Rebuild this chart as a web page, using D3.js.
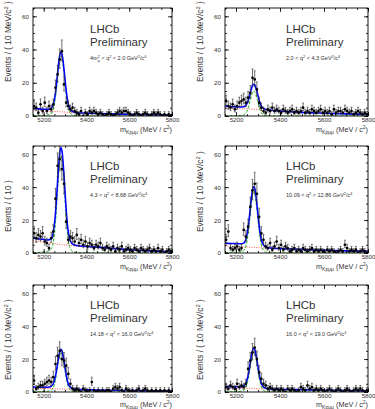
<!DOCTYPE html>
<html>
<head>
<meta charset="utf-8">
<script src="https://cdn.jsdelivr.net/npm/d3@7"></script>
<style>
  body { margin: 0; background: #fff; }
  svg { display: block; }
</style>
</head>
<body>
<div id="chart"></div>
<script>
// bin centres of the 10 MeV mass bins
const binMass = [
  5155, 5165, 5175, 5185, 5195, 5205, 5215, 5225, 5235, 5245,
  5255, 5265, 5275, 5285, 5295, 5305, 5315, 5325, 5335, 5345,
  5355, 5365, 5375, 5385, 5395, 5405, 5415, 5425, 5435, 5445,
  5455, 5465, 5475, 5485, 5495, 5505, 5515, 5525, 5535, 5545,
  5555, 5565, 5575, 5585, 5595, 5605, 5615, 5625, 5635, 5645,
  5655, 5665, 5675, 5685, 5695, 5705, 5715, 5725, 5735, 5745,
  5755, 5765, 5775, 5785, 5795
];

const fitMass = [5150, 5175, 5200, 5220, 5235, 5245, 5255, 5262, 5268, 5274, 5280, 5286, 5292,
  5298, 5305, 5315, 5325, 5340, 5360, 5400, 5450, 5500, 5600, 5700, 5800];

const xMajorTicks = [5200, 5400, 5600, 5800];
const yMajorTicks = [0, 20, 40, 60];
const massRange = [5150, 5800];
const countRange = [0, 65];

const q2Labels = [
  "4m^{2}_{μ} < q^{2} < 2.0 GeV^{2}/c^{4}",
  "2.0 < q^{2} < 4.3 GeV^{2}/c^{4}",
  "4.3 < q^{2} < 8.68 GeV^{2}/c^{4}",
  "10.09 < q^{2} < 12.86 GeV^{2}/c^{4}",
  "14.18 < q^{2} < 16.0 GeV^{2}/c^{4}",
  "16.0 < q^{2} < 19.0 GeV^{2}/c^{4}"
];
const yTitles = [
  "Events / ( 10 MeV/c^{2} )", "Events / ( 10 MeV/c^{2} )",
  "Events / ( 10 )", "Events / ( 10 MeV/c^{2} )",
  "Events / ( 10 MeV/c^{2} )", "Events / ( 10 MeV/c^{2} )"
];
const xTitle = "m_{Kpμμ} (MeV / c^{2})";

// candidates per bin
const counts1 = [
  6, 5, 2, 7, 3, 8, 3, 6, 4, 7,
  17, 25, 34, 39, 19, 8, 6, 4, 5, 3,
  2, 1, 3, 0, 2, 1, 3, 2, 3, 2,
  1, 2, 1, 0, 1, 2, 1, 0, 1, 2,
  3, 2, 3, 3, 2, 1, 0, 1, 2, 1,
  0, 1, 2, 1, 0, 1, 2, 1, 2, 1,
  0, 1, 0, 1, 0
];
const counts2 = [
  9, 6, 5, 7, 4, 6, 8, 9, 10, 8,
  11, 14, 23, 22, 16, 8, 5, 3, 2, 4,
  3, 5, 3, 4, 3, 2, 4, 3, 2, 3,
  4, 2, 3, 2, 3, 5, 2, 3, 2, 4,
  3, 2, 3, 4, 2, 3, 2, 3, 1, 4,
  2, 3, 3, 2, 4, 3, 2, 3, 1, 2,
  3, 2, 1, 2, 1
];
const counts3 = [
  12, 9, 11, 10, 12, 7, 6, 3, 9, 13,
  33, 53, 57, 51, 42, 19, 8, 10, 9, 7,
  11, 6, 8, 5, 7, 4, 6, 5, 3, 5,
  4, 6, 3, 2, 4, 3, 2, 4, 1, 3,
  2, 4, 1, 2, 3, 2, 1, 3, 2, 1,
  3, 2, 1, 2, 3, 1, 2, 1, 3, 1,
  2, 0, 1, 2, 1
];
const counts4 = [
  8, 13, 3, 2, 3, 4, 2, 3, 14, 10,
  16, 28, 38, 42, 36, 22, 12, 8, 4, 3,
  6, 2, 4, 7, 3, 5, 2, 4, 3, 1,
  2, 3, 1, 2, 1, 3, 2, 1, 2, 3,
  1, 2, 1, 2, 1, 0, 2, 1, 2, 1,
  0, 1, 2, 1, 5, 3, 1, 2, 1, 2,
  0, 1, 2, 1, 0
];
const counts5 = [
  7, 2, 3, 4, 4, 5, 6, 7, 6, 9,
  17, 22, 25, 20, 19, 16, 11, 5, 2, 1,
  2, 1, 0, 2, 1, 0, 1, 6, 1, 0,
  1, 0, 1, 0, 1, 1, 0, 2, 3, 2,
  3, 1, 0, 2, 1, 0, 1, 0, 1, 2,
  0, 1, 2, 1, 0, 1, 0, 1, 0, 1,
  0, 1, 0, 1, 0
];
const counts6 = [
  3, 2, 4, 3, 2, 5, 3, 4, 3, 5,
  14, 19, 24, 27, 20, 12, 8, 5, 4, 2,
  3, 2, 1, 2, 1, 2, 1, 0, 2, 1,
  2, 1, 0, 1, 3, 2, 1, 4, 2, 3,
  1, 2, 1, 2, 1, 0, 1, 2, 1, 0,
  1, 2, 1, 0, 1, 2, 1, 0, 1, 2,
  1, 2, 1, 0, 1
];

// fit curves (total / signal / combinatorial background), values at fitMass
const total1 = [4.6, 4.3, 4.1, 4.0, 4.8, 7.0, 14.0, 22.0, 29.6, 35.7, 38.5, 37.0, 31.6, 24.3, 15.6, 7.1, 3.8, 2.4, 2.0, 1.75, 1.5, 1.3, 1.0, 0.8, 0.6];
const signal1 = [0.1, 0.2, 0.4, 0.7, 1.4, 4.0, 11.2, 19.3, 27.0, 33.1, 36.0, 34.6, 29.2, 22.0, 13.3, 4.9, 1.6, 0.4, 0.1, 0, 0, 0, 0, 0, 0];
const bkg1 = [3.6, 3.4, 3.2, 3.0, 2.9, 2.8, 2.7, 2.65, 2.6, 2.55, 2.5, 2.45, 2.4, 2.35, 2.3, 2.2, 2.15, 2.05, 1.9, 1.7, 1.5, 1.3, 1.0, 0.8, 0.6];

const total2 = [6.0, 5.7, 5.5, 5.4, 5.6, 6.5, 9.0, 12.2, 15.4, 18.0, 19.1, 18.5, 16.2, 13.2, 9.5, 6.0, 4.6, 3.8, 3.5, 3.0, 2.6, 2.2, 1.7, 1.3, 1.0];
const signal2 = [0.05, 0.1, 0.15, 0.3, 0.6, 1.65, 4.65, 8.0, 11.25, 13.8, 15.0, 14.4, 12.15, 9.15, 5.55, 2.0, 0.7, 0.15, 0.05, 0, 0, 0, 0, 0, 0];
const bkg2 = [4.8, 4.6, 4.5, 4.4, 4.3, 4.3, 4.2, 4.2, 4.2, 4.1, 4.1, 4.1, 4.05, 4.05, 4.0, 3.95, 3.9, 3.7, 3.45, 3.0, 2.6, 2.2, 1.7, 1.3, 1.0];

const total3 = [9.0, 8.6, 8.2, 7.9, 8.7, 12.7, 24.0, 37.2, 49.6, 59.5, 64.1, 61.6, 52.7, 40.9, 26.6, 12.7, 7.3, 5.0, 4.4, 4.0, 3.5, 3.0, 2.0, 1.3, 0.8];
const signal3 = [0.2, 0.3, 0.6, 1.2, 2.4, 6.5, 18.3, 31.6, 44.3, 54.3, 59.0, 56.6, 47.8, 36.0, 21.8, 8.0, 2.7, 0.6, 0.2, 0, 0, 0, 0, 0, 0];
const bkg3 = [7.2, 6.9, 6.5, 6.2, 5.9, 5.7, 5.5, 5.4, 5.3, 5.2, 5.1, 5.0, 4.95, 4.9, 4.8, 4.7, 4.6, 4.45, 4.3, 4.0, 3.5, 3.0, 2.0, 1.3, 0.8];

const total4 = [6.0, 5.8, 5.7, 5.6, 6.0, 8.4, 15.3, 23.4, 31.2, 37.4, 40.4, 38.9, 33.3, 25.8, 16.9, 8.2, 4.8, 3.4, 3.0, 2.7, 2.4, 2.1, 1.7, 1.3, 1.0];
const signal4 = [0.1, 0.2, 0.4, 0.7, 1.5, 4.1, 11.5, 19.8, 27.8, 34.0, 37.0, 35.5, 30.0, 22.6, 13.7, 5.0, 1.7, 0.4, 0.1, 0, 0, 0, 0, 0, 0];
const bkg4 = [4.2, 4.0, 3.9, 3.8, 3.7, 3.6, 3.55, 3.5, 3.45, 3.4, 3.4, 3.35, 3.3, 3.25, 3.2, 3.15, 3.1, 3.0, 2.9, 2.7, 2.4, 2.1, 1.7, 1.3, 1.0];

const total5 = [3.0, 2.9, 2.9, 2.9, 3.5, 5.0, 9.6, 14.8, 19.9, 23.9, 25.9, 24.8, 21.2, 16.4, 10.6, 4.9, 2.8, 1.9, 1.6, 1.4, 1.25, 1.1, 0.9, 0.7, 0.55];
const signal5 = [0.1, 0.1, 0.25, 0.5, 1.0, 2.6, 7.45, 12.85, 18.0, 22.1, 24.0, 23.0, 19.4, 14.6, 8.9, 3.2, 1.1, 0.25, 0.1, 0, 0, 0, 0, 0, 0];
const bkg5 = [2.4, 2.3, 2.2, 2.1, 2.05, 2.0, 1.95, 1.9, 1.9, 1.85, 1.85, 1.8, 1.8, 1.75, 1.75, 1.7, 1.65, 1.6, 1.5, 1.4, 1.25, 1.1, 0.9, 0.7, 0.55];

const total6 = [3.3, 3.2, 3.2, 3.2, 3.8, 5.3, 9.9, 15.3, 20.5, 24.7, 26.6, 25.6, 21.9, 17.0, 11.1, 5.3, 3.0, 2.1, 1.85, 1.65, 1.5, 1.35, 1.1, 0.9, 0.7];
const signal6 = [0.1, 0.1, 0.25, 0.5, 1.0, 2.7, 7.6, 13.1, 18.4, 22.5, 24.5, 23.5, 19.8, 15.0, 9.1, 3.3, 1.1, 0.25, 0.1, 0, 0, 0, 0, 0, 0];
const bkg6 = [2.6, 2.5, 2.4, 2.35, 2.3, 2.25, 2.2, 2.2, 2.15, 2.15, 2.1, 2.1, 2.05, 2.05, 2.0, 1.95, 1.9, 1.85, 1.8, 1.65, 1.5, 1.35, 1.1, 0.9, 0.7];

const panels = [
  { counts: counts1, total: total1, signal: signal1, bkg: bkg1 },
  { counts: counts2, total: total2, signal: signal2, bkg: bkg2 },
  { counts: counts3, total: total3, signal: signal3, bkg: bkg3 },
  { counts: counts4, total: total4, signal: signal4, bkg: bkg4 },
  { counts: counts5, total: total5, signal: signal5, bkg: bkg5 },
  { counts: counts6, total: total6, signal: signal6, bkg: bkg6 }
];

// layout of the 2x3 grid (pixel frames of each plot)
const colX = [[33, 172], [225, 368]];
const rowY = [[8, 116], [146, 253], [285, 392]];
const yTitleLift = [34, 21, 12];
const lhcbOffset = [57, 61];
const FONT = '"Liberation Sans", Arial, Helvetica, sans-serif';

// tiny ROOT-latex: handles ^{..} and _{..}
function richText(sel, str, size) {
  const parts = str.split(/([_^]\{[^}]*\})/).filter(s => s);
  let cur = 0, prevSup = null;
  parts.forEach(s => {
    let t = 0, txt = s, fs = size, dx = 0;
    if (s[0] === '^') { t = -0.4 * size; txt = s.slice(2, -1); fs = size * 0.7; }
    else if (s[0] === '_') {
      t = 0.28 * size; txt = s.slice(2, -1); fs = size * 0.7;
      if (prevSup) dx = -prevSup.length * 0.556 * fs; // stack under the superscript
    }
    sel.append('tspan').attr('dy', t - cur).attr('dx', dx).attr('font-size', fs).text(txt);
    prevSup = s[0] === '^' ? txt : null;
    cur = t;
  });
}

const svg = d3.select('#chart').append('svg')
  .attr('width', 375)
  .attr('height', 409)
  .style('font-family', FONT);

panels.forEach((p, i) => {
  const col = i % 2, row = Math.floor(i / 2);
  const [x0, x1] = colX[col];
  const [yt, yb] = rowY[row];

  const x = d3.scaleLinear().domain(massRange).range([x0, x1]);
  const y = d3.scaleLinear().domain(countRange).range([yb, yt]);

  const g = svg.append('g');

  g.append('clipPath').attr('id', 'clip' + i)
    .append('rect')
    .attr('x', x0).attr('y', yt)
    .attr('width', x1 - x0).attr('height', yb - yt);

  const plot = g.append('g').attr('clip-path', `url(#clip${i})`);

  const line = d3.line()
    .x((d, j) => x(fitMass[j]))
    .y(d => y(d))
    .curve(d3.curveMonotoneX);

  // background (red dotted)
  plot.append('path')
    .attr('d', line(p.bkg))
    .attr('fill', 'none')
    .attr('stroke', '#ff3b3b')
    .attr('stroke-width', 0.9)
    .attr('stroke-dasharray', '1,1.4');

  // signal (green dashed)
  plot.append('path')
    .attr('d', line(p.signal))
    .attr('fill', 'none')
    .attr('stroke', '#1fb31f')
    .attr('stroke-width', 1)
    .attr('stroke-dasharray', '3,1.5');

  // total fit (blue)
  plot.append('path')
    .attr('d', line(p.total))
    .attr('fill', 'none')
    .attr('stroke', '#0000ff')
    .attr('stroke-width', 1.6);

  // data with Poisson-like error bars
  const pts = p.counts.map((n, j) => ({
    m: binMass[j],
    n: n,
    lo: n - (Math.sqrt(n + 0.25) - 0.5),
    hi: n + Math.sqrt(n + 0.25) + 0.5
  }));

  plot.selectAll('.err')
    .data(pts)
    .enter()
    .append('line')
    .attr('x1', d => x(d.m)).attr('x2', d => x(d.m))
    .attr('y1', d => y(d.lo)).attr('y2', d => y(d.hi))
    .attr('stroke', '#333')
    .attr('stroke-width', 0.7);

  plot.selectAll('.cap')
    .data(pts.flatMap(d => [{ m: d.m, v: d.lo }, { m: d.m, v: d.hi }]))
    .enter()
    .append('line')
    .attr('x1', d => x(d.m) - 1).attr('x2', d => x(d.m) + 1)
    .attr('y1', d => y(d.v)).attr('y2', d => y(d.v))
    .attr('stroke', '#333')
    .attr('stroke-width', 0.6);

  plot.selectAll('.pt')
    .data(pts)
    .enter()
    .append('circle')
    .attr('cx', d => x(d.m))
    .attr('cy', d => y(d.n))
    .attr('r', 1.35)
    .attr('fill', '#000');

  // axes: ticks point inwards on all four sides
  const styleAxis = sel => {
    sel.select('.domain').remove();
    sel.attr('font-size', 6.2).attr('font-family', FONT);
    sel.selectAll('line').attr('stroke-width', 0.8);
    sel.selectAll('text').attr('fill', '#333');
  };

  g.append('g').attr('transform', `translate(0,${yb})`)
    .call(d3.axisBottom(x).tickValues(x.ticks(13)).tickSizeInner(-2).tickSizeOuter(0).tickFormat(''))
    .call(styleAxis);
  g.append('g').attr('transform', `translate(0,${yb})`)
    .call(d3.axisBottom(x).tickValues(xMajorTicks).tickSizeInner(-4).tickSizeOuter(0)
      .tickPadding(2).tickFormat(d3.format('d')))
    .call(styleAxis);

  g.append('g').attr('transform', `translate(0,${yt})`)
    .call(d3.axisTop(x).tickValues(x.ticks(13)).tickSizeInner(-2).tickSizeOuter(0).tickFormat(''))
    .call(styleAxis);
  g.append('g').attr('transform', `translate(0,${yt})`)
    .call(d3.axisTop(x).tickValues(xMajorTicks).tickSizeInner(-4).tickSizeOuter(0).tickFormat(''))
    .call(styleAxis);

  g.append('g').attr('transform', `translate(${x0},0)`)
    .call(d3.axisLeft(y).tickValues(y.ticks(13)).tickSizeInner(-2).tickSizeOuter(0).tickFormat(''))
    .call(styleAxis);
  g.append('g').attr('transform', `translate(${x0},0)`)
    .call(d3.axisLeft(y).tickValues(yMajorTicks).tickSizeInner(-4).tickSizeOuter(0)
      .tickPadding(4).tickFormat(d3.format('d')))
    .call(styleAxis);

  g.append('g').attr('transform', `translate(${x1},0)`)
    .call(d3.axisRight(y).tickValues(y.ticks(13)).tickSizeInner(-2).tickSizeOuter(0).tickFormat(''))
    .call(styleAxis);
  g.append('g').attr('transform', `translate(${x1},0)`)
    .call(d3.axisRight(y).tickValues(yMajorTicks).tickSizeInner(-4).tickSizeOuter(0).tickFormat(''))
    .call(styleAxis);

  // frame
  g.append('rect')
    .attr('x', x0).attr('y', yt)
    .attr('width', x1 - x0).attr('height', yb - yt)
    .attr('fill', 'none')
    .attr('stroke', '#000')
    .attr('stroke-width', 0.9);

  // axis titles
  const xt = g.append('text')
    .attr('x', x1)
    .attr('y', Math.min(yb + 16, 406.5))
    .attr('text-anchor', 'end')
    .attr('font-size', 7.2)
    .attr('fill', '#333');
  richText(xt, xTitle, 7.2);

  const ytl = g.append('text')
    .attr('transform', `translate(${x0 - 22},${yb - yTitleLift[row]}) rotate(-90)`)
    .attr('text-anchor', 'start')
    .attr('font-size', 8.3)
    .attr('fill', '#333');
  richText(ytl, yTitles[i], 8.3);

  // labels
  const lx = x0 + lhcbOffset[col];
  g.append('text')
    .attr('x', lx).attr('y', yb - 83)
    .attr('font-size', 11.5)
    .attr('fill', '#333')
    .text('LHCb');
  g.append('text')
    .attr('x', lx).attr('y', yb - 70)
    .attr('font-size', 11.5)
    .attr('fill', '#333')
    .text('Preliminary');
  const ql = g.append('text')
    .attr('x', lx).attr('y', yb - 56)
    .attr('font-size', 5.5)
    .attr('fill', '#333');
  richText(ql, q2Labels[i], 5.5);
});
</script>
</body>
</html>
